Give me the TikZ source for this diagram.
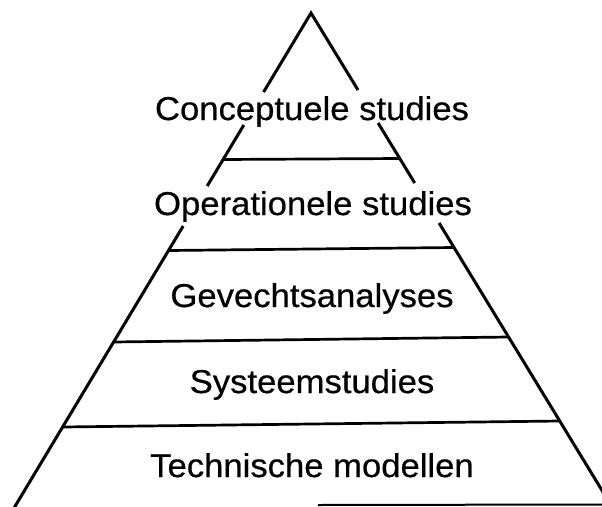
\documentclass[tikz,border=0pt]{standalone}
\usepackage{fontspec}
\setmainfont{Liberation Sans}
\newfontfamily\scanfont{Liberation Sans}[FakeBold=0.5]
\begin{document}
\begin{tikzpicture}[x=1pt,y=1pt,
  edge/.style={line width=3pt},
  sepline/.style={line width=2.7pt},
  lbl/.style={font=\scanfont\fontsize{33}{40}\selectfont, xscale=1.05, transform shape, anchor=base, inner sep=0pt}]
\useasboundingbox (0,0) rectangle (602,-506);
\clip (0,0) rectangle (602,-506);
% apex and edge points
\coordinate (apex) at (311,-13);
\coordinate (l1) at (263.6,-92);
\coordinate (l2) at (243.8,-125);
\coordinate (l3) at (207.2,-186);
\coordinate (l4) at (183.2,-226);
\coordinate (lb) at (9.8,-515);
\coordinate (r1) at (358.0,-90);
\coordinate (r2) at (378.1,-123);
\coordinate (r3) at (414.7,-183);
\coordinate (r4) at (439.1,-223);
\coordinate (rb) at (617,-515);
% layer lines
\coordinate (a1) at (223.4,-159.5); \coordinate (b1) at (400.0,-158.5);
\coordinate (a2) at (169.0,-250.5); \coordinate (b2) at (454.0,-247.5);
\coordinate (a3) at (113.6,-342);   \coordinate (b3) at (508.6,-337);
\coordinate (a4) at (62.6,-427);    \coordinate (b4) at (559.9,-421);
\coordinate (c5) at (318,-505);     \coordinate (d5) at (604,-504.5);
% edges
\draw[edge] (l1) -- (apex) -- (r1);
\draw[edge] (l2) -- (l3);
\draw[edge] (r2) -- (r3);
\draw[edge] (l4) -- (lb);
\draw[edge] (r4) -- (rb);
% separators
\draw[sepline] (a1) -- (b1);
\draw[sepline] (a2) -- (b2);
\draw[sepline] (a3) -- (b3);
\draw[sepline] (a4) -- (b4);
\draw[line width=2pt] (c5) -- (d5);
% labels
\node[lbl] (t1) at (312,-120) {Conceptuele studies};
\node[lbl] (t2) at (313,-215) {Operationele studies};
\node[lbl] (t3) at (312,-307) {Gevechtsanalyses};
\node[lbl] (t4) at (312,-393) {Systeemstudies};
\node[lbl] (t5) at (312,-477) {Technische modellen};
\end{tikzpicture}
\end{document}
